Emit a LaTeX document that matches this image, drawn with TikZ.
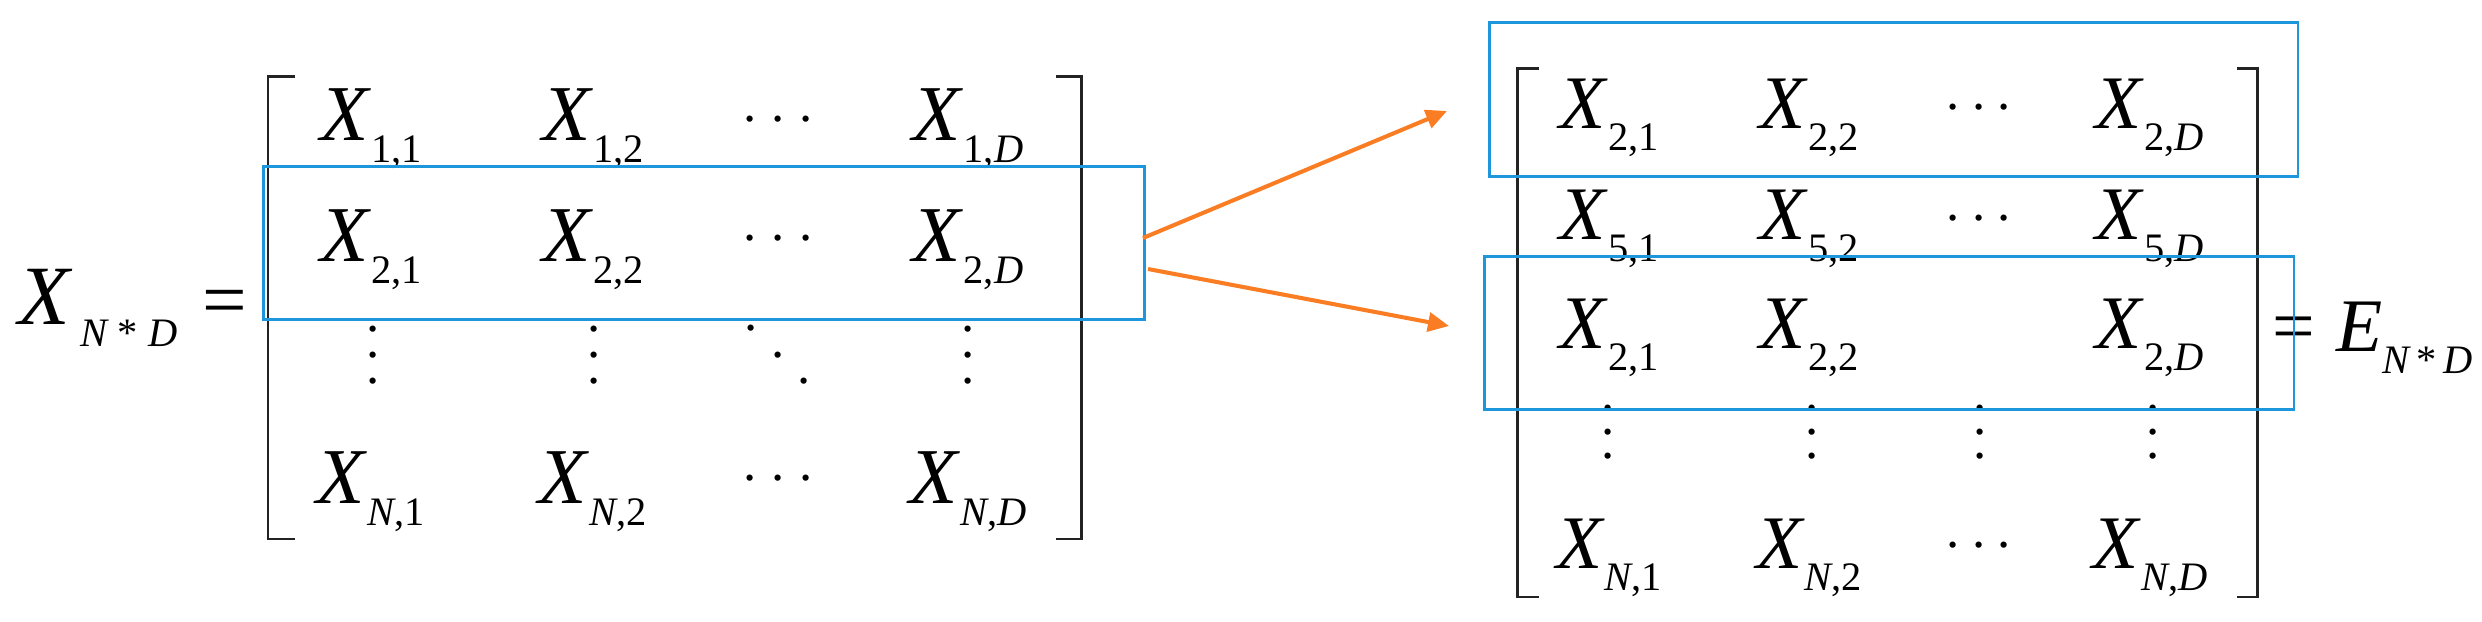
\documentclass[tikz,border=0pt]{standalone}
\usepackage{fontspec}
\setmainfont{Liberation Serif}
\usetikzlibrary{arrows.meta}
\definecolor{boxblue}{RGB}{30,150,220}
\definecolor{arroworange}{RGB}{250,125,35}
\definecolor{brk}{RGB}{35,35,35}
\newcommand{\Lf}{\fontsize{22.5}{27}\selectfont}
\newcommand{\Hf}{\fontsize{24}{28}\selectfont}
\newcommand{\Rf}{\fontsize{21.5}{26}\selectfont}
\newcommand{\Sf}{\fontsize{11.5}{14}\selectfont}
\newcommand{\Df}{\fontsize{15}{18}\selectfont}
\newcommand{\ent}[1]{{\itshape X\/}\raisebox{-6.2pt}{\Sf #1}}
\newcommand{\pd}[1]{\hbox to #1{\hss.\hss}}
\newcommand{\hdts}[1]{\hbox{\pd{#1}\pd{#1}\pd{#1}}}
\newcommand{\vdts}[1]{\vbox{\baselineskip=#1\lineskiplimit=-1cm\hbox{.}\hbox{.}\hbox{.}}}
\newcommand{\ddts}[1]{\vbox{\baselineskip=#1\lineskiplimit=-1cm\hbox{\pd{#1}\kern#1\kern#1}\hbox{\kern#1\pd{#1}\kern#1}\hbox{\kern#1\kern#1\pd{#1}}}}
\newcommand{\ii}[1]{{\itshape #1}}
\tikzset{
  lent/.style={inner sep=0pt, anchor=base, font=\Lf},
  rent/.style={inner sep=0pt, anchor=base, font=\Rf},
  dotnode/.style={inner sep=0pt, anchor=center, font=\Df},
  bracket/.style={draw=brk, line width=0.85pt},
  bluebox/.style={draw=boxblue, line width=0.85pt, inner sep=0pt, anchor=north west},
  arr/.style={draw=arroworange, line width=1.15pt, -{Triangle[length=0.21cm,width=0.19cm]}}
}
\begin{document}
\begin{tikzpicture}[x=0.01cm, y=-0.01cm]
\useasboundingbox (0,0) rectangle (2482,622);
% left label
\node[inner sep=0pt, anchor=base west, font=\Hf] (lhs) at (18,325) {{\itshape X\/}\kern2pt\raisebox{-6.2pt}{\Sf\ii{N}\kern3pt*\kern3pt\ii{D}}};
\node[inner sep=0pt, anchor=base, font=\Lf] (eqL) at (225,327) {=};
% left brackets
\draw[bracket] (295,77) -- (268,77) -- (268,539) -- (295,539);
\draw[bracket] (1056,77) -- (1081,77) -- (1081,539) -- (1056,539);
% left matrix
\node[lent] (L11) at (371,141) {\ent{1,1}};
\node[lent] (L12) at (593,141) {\ent{1,2}};
\node[dotnode] (L1c) at (778,119) {\hdts{0.28cm}};
\node[lent] (L1D) at (968,141) {\ent{1,\ii{D}}};
\node[lent] (L21) at (371,262) {\ent{2,1}};
\node[lent] (L22) at (593,262) {\ent{2,2}};
\node[dotnode] (L2c) at (778,238) {\hdts{0.28cm}};
\node[lent] (L2D) at (968,262) {\ent{2,\ii{D}}};
\node[dotnode] (Lv1) at (373,355) {\vdts{0.26cm}};
\node[dotnode] (Lv2) at (594,355) {\vdts{0.26cm}};
\node[dotnode] (Ldd) at (778,355) {\ddts{0.265cm}};
\node[dotnode] (Lv4) at (968,355) {\vdts{0.26cm}};
\node[lent] (LN1) at (371,504) {\ent{\ii{N},1}};
\node[lent] (LN2) at (593,504) {\ent{\ii{N},2}};
\node[dotnode] (LNc) at (778,478) {\hdts{0.28cm}};
\node[lent] (LND) at (968,504) {\ent{\ii{N},\ii{D}}};
% right brackets
\draw[bracket] (1539,69) -- (1517,69) -- (1517,597) -- (1539,597);
\draw[bracket] (2237,69) -- (2257,69) -- (2257,597) -- (2237,597);
% right matrix
\node[rent] (R11) at (1609,129) {\ent{2,1}};
\node[rent] (R12) at (1809,129) {\ent{2,2}};
\node[dotnode] (R1c) at (1979,107) {\hdts{0.255cm}};
\node[rent] (R1D) at (2150,129) {\ent{2,\ii{D}}};
\node[rent] (R21) at (1609,240) {\ent{5,1}};
\node[rent] (R22) at (1809,240) {\ent{5,2}};
\node[dotnode] (R2c) at (1979,218) {\hdts{0.255cm}};
\node[rent] (R2D) at (2150,240) {\ent{5,\ii{D}}};
\node[rent] (R31) at (1609,349) {\ent{2,1}};
\node[rent] (R32) at (1809,349) {\ent{2,2}};
\node[rent] (R3D) at (2150,349) {\ent{2,\ii{D}}};
\node[dotnode] (Rv1) at (1608,432) {\vdts{0.24cm}};
\node[dotnode] (Rv2) at (1812,432) {\vdts{0.24cm}};
\node[dotnode] (Rv3) at (1980,432) {\vdts{0.24cm}};
\node[dotnode] (Rv4) at (2153,432) {\vdts{0.24cm}};
\node[rent] (RN1) at (1609,569) {\ent{\ii{N},1}};
\node[rent] (RN2) at (1809,569) {\ent{\ii{N},2}};
\node[dotnode] (RNc) at (1979,545) {\hdts{0.255cm}};
\node[rent] (RND) at (2150,569) {\ent{\ii{N},\ii{D}}};
% right label
\node[inner sep=0pt, anchor=base west, font=\Rf] (rhs) at (2272,352) {=\kern6pt{\itshape E\/}\raisebox{-6.2pt}{\Sf\ii{N}\kern2pt*\kern2pt\ii{D}}};
% blue boxes
\node[bluebox, minimum width=8.8cm, minimum height=1.53cm] (boxL) at (262,165) {};
\node[bluebox, minimum width=8.08cm, minimum height=1.54cm] (boxR1) at (1488,21) {};
\node[bluebox, minimum width=8.09cm, minimum height=1.53cm] (boxR2) at (1483,255) {};
% arrows
\coordinate (s1) at (1143,238);
\coordinate (s2) at (1148,269);
\coordinate (t1) at (1447,111);
\coordinate (t2) at (1449,326);
\draw[arr] (s1) -- (t1);
\draw[arr] (s2) -- (t2);
\end{tikzpicture}
\end{document}
